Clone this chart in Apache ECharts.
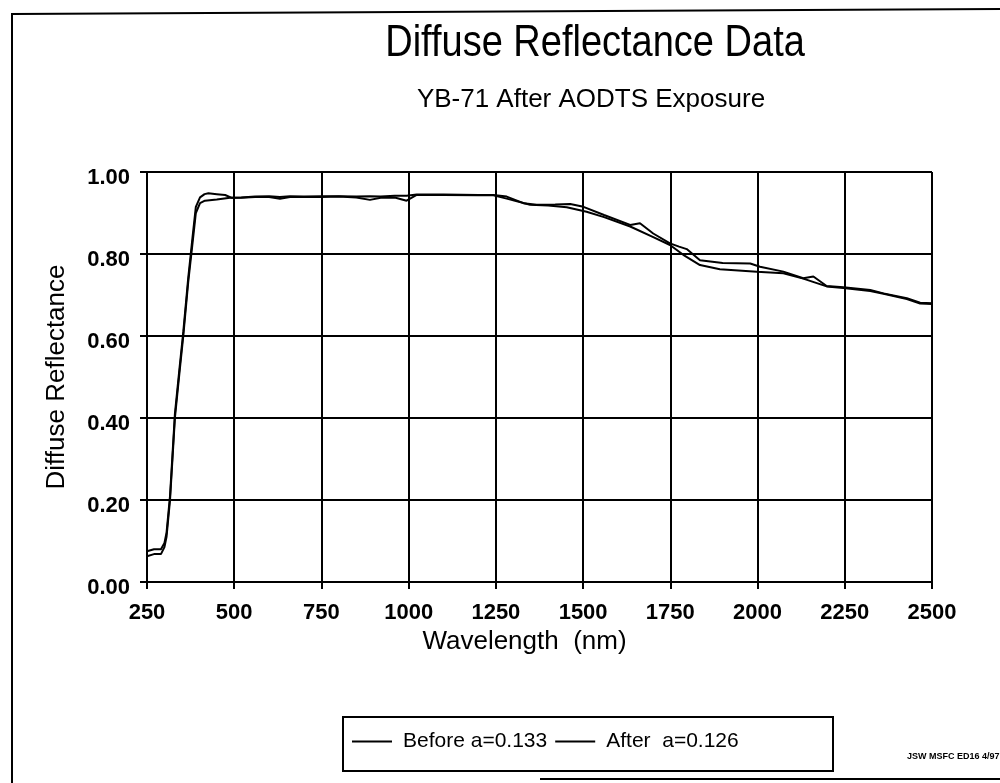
<!DOCTYPE html>
<html>
<head>
<meta charset="utf-8">
<style>
  html, body { margin: 0; padding: 0; background: #fff; }
  #chart { width: 1000px; height: 783px; }
</style>
<script src="https://cdn.jsdelivr.net/npm/echarts@6/dist/echarts.min.js"></script>
</head>
<body>
<div id="chart"></div>
<script>
// Diffuse reflectance of YB-71 before and after AODTS exposure
const beforeWl = [250, 270, 290, 300, 306, 316, 330, 343, 354, 368, 381, 390, 402, 415, 426, 450, 474, 493, 520, 560, 600, 631, 660, 700, 750, 800, 850, 889, 920, 960, 994, 1023, 1100, 1200, 1243, 1281, 1329, 1367, 1420, 1463, 1501, 1560, 1635, 1663, 1701, 1749, 1775, 1797, 1835, 1900, 1979, 2007, 2074, 2131, 2160, 2198, 2246, 2323, 2361, 2428, 2466, 2500];
const beforeR = [0.075, 0.080, 0.080, 0.095, 0.12, 0.21, 0.41, 0.52, 0.61, 0.74, 0.845, 0.915, 0.938, 0.946, 0.948, 0.946, 0.944, 0.937, 0.938, 0.940, 0.941, 0.939, 0.941, 0.940, 0.941, 0.941, 0.940, 0.941, 0.940, 0.942, 0.942, 0.945, 0.945, 0.944, 0.944, 0.940, 0.924, 0.920, 0.921, 0.922, 0.915, 0.895, 0.871, 0.875, 0.850, 0.826, 0.818, 0.812, 0.785, 0.778, 0.777, 0.769, 0.757, 0.741, 0.745, 0.722, 0.719, 0.712, 0.704, 0.692, 0.681, 0.680];

const afterWl = [250, 270, 290, 300, 306, 316, 330, 343, 354, 368, 381, 390, 402, 416, 450, 488, 520, 560, 600, 631, 660, 700, 750, 800, 850, 889, 920, 960, 994, 1023, 1100, 1200, 1243, 1281, 1348, 1400, 1453, 1510, 1560, 1635, 1701, 1749, 1787, 1835, 1892, 1998, 2074, 2131, 2198, 2246, 2323, 2361, 2428, 2466, 2500];
const afterR = [0.063, 0.068, 0.068, 0.085, 0.11, 0.20, 0.40, 0.51, 0.60, 0.73, 0.83, 0.90, 0.924, 0.930, 0.933, 0.937, 0.937, 0.939, 0.939, 0.935, 0.939, 0.939, 0.939, 0.940, 0.938, 0.932, 0.937, 0.938, 0.930, 0.944, 0.944, 0.943, 0.943, 0.935, 0.920, 0.918, 0.914, 0.903, 0.890, 0.867, 0.841, 0.822, 0.798, 0.773, 0.763, 0.757, 0.753, 0.740, 0.721, 0.717, 0.710, 0.703, 0.690, 0.679, 0.678];

const xTicks = [250, 500, 750, 1000, 1250, 1500, 1750, 2000, 2250, 2500];
const yTicks = [0.00, 0.20, 0.40, 0.60, 0.80, 1.00];

const seriesNames = ['Before a=0.133', 'After  a=0.126'];

const FONT = '"Liberation Sans", Arial, sans-serif';

function pairs(xs, ys) {
  return xs.map((x, i) => [x, ys[i]]);
}

const chart = echarts.init(document.getElementById('chart'), null, { renderer: 'canvas' });

chart.setOption({
  backgroundColor: '#ffffff',
  animation: false,
  textStyle: { fontFamily: FONT, color: '#000' },
  title: [
    {
      text: 'YB-71 After AODTS Exposure',
      left: 586, top: 82, textAlign: 'center',
      textStyle: { fontFamily: FONT, fontSize: 26, fontWeight: 'normal', color: '#000' }
    }
  ],
  grid: { left: 147, right: 68, top: 172, bottom: 201, containLabel: false },
  xAxis: {
    type: 'value',
    min: 250, max: 2500, interval: 250,
    name: 'Wavelength  (nm)',
    nameLocation: 'middle',
    nameGap: 41,
    nameTextStyle: { fontFamily: FONT, fontSize: 26, color: '#000', padding: [0, 30, 0, 0] },
    axisLine: { show: true, lineStyle: { color: '#000', width: 2 } },
    axisTick: { show: true, inside: false, length: 7, lineStyle: { color: '#000', width: 2 } },
    axisLabel: {
      fontFamily: FONT, fontSize: 22, fontWeight: 'bold', color: '#000', margin: 20,
      formatter: v => (xTicks.includes(v) ? String(v) : '')
    },
    splitLine: { show: true, lineStyle: { color: '#000', width: 2 } }
  },
  yAxis: {
    type: 'value',
    min: 0, max: 1, interval: 0.2,
    name: 'Diffuse Reflectance',
    nameLocation: 'middle',
    nameGap: 77,
    nameRotate: 90,
    nameTextStyle: { fontFamily: FONT, fontSize: 26, color: '#000' },
    axisLine: { show: true, lineStyle: { color: '#000', width: 2 } },
    axisTick: { show: true, inside: false, length: 7, lineStyle: { color: '#000', width: 2 } },
    axisLabel: {
      fontFamily: FONT, fontSize: 22, fontWeight: 'bold', color: '#000', margin: 17,
      verticalAlign: 'top', lineHeight: 12,
      formatter: v => {
        const t = yTicks.find(y => Math.abs(y - v) < 1e-6);
        return t === undefined ? '' : t.toFixed(2);
      }
    },
    splitLine: { show: true, lineStyle: { color: '#000', width: 2 } }
  },
  legend: {
    left: 343, top: 731,
    orient: 'horizontal',
    data: seriesNames,
    icon: 'rect',
    itemWidth: 40, itemHeight: 2, itemGap: 8,
    padding: [0, 0, 0, 9],
    textStyle: { fontFamily: FONT, fontSize: 21, color: '#000', padding: [0, 0, 0, 6] }
  },
  series: [
    {
      name: seriesNames[0], type: 'line', data: pairs(beforeWl, beforeR),
      symbol: 'none', smooth: false,
      lineStyle: { color: '#000', width: 2 }, itemStyle: { color: '#000' }
    },
    {
      name: seriesNames[1], type: 'line', data: pairs(afterWl, afterR),
      symbol: 'none', smooth: false,
      lineStyle: { color: '#000', width: 2 }, itemStyle: { color: '#000' }
    }
  ],
  graphic: [
    // page frame
    { type: 'polyline', shape: { points: [[12, 783], [12, 14], [1000, 9]] }, style: { stroke: '#000', lineWidth: 2, fill: null } },
    { type: 'line', shape: { x1: 540, y1: 779, x2: 1000, y2: 779 }, style: { stroke: '#000', lineWidth: 2 } },
    // main heading, slightly tall lettering
    {
      type: 'text', x: 595, y: 66, scaleY: 1.15,
      style: { text: 'Diffuse Reflectance Data', fontFamily: FONT, fontSize: 38, fill: '#000', align: 'center', verticalAlign: 'bottom' }
    },
    // legend frame
    { type: 'rect', shape: { x: 343, y: 717, width: 490, height: 54 }, style: { stroke: '#000', lineWidth: 2, fill: null } },
    // document code
    { type: 'text', x: 907, y: 752, style: { text: 'JSW MSFC ED16 4/97', fontFamily: FONT, fontSize: 9, fontWeight: 'bold', fill: '#000' } }
  ]
});
</script>
</body>
</html>
